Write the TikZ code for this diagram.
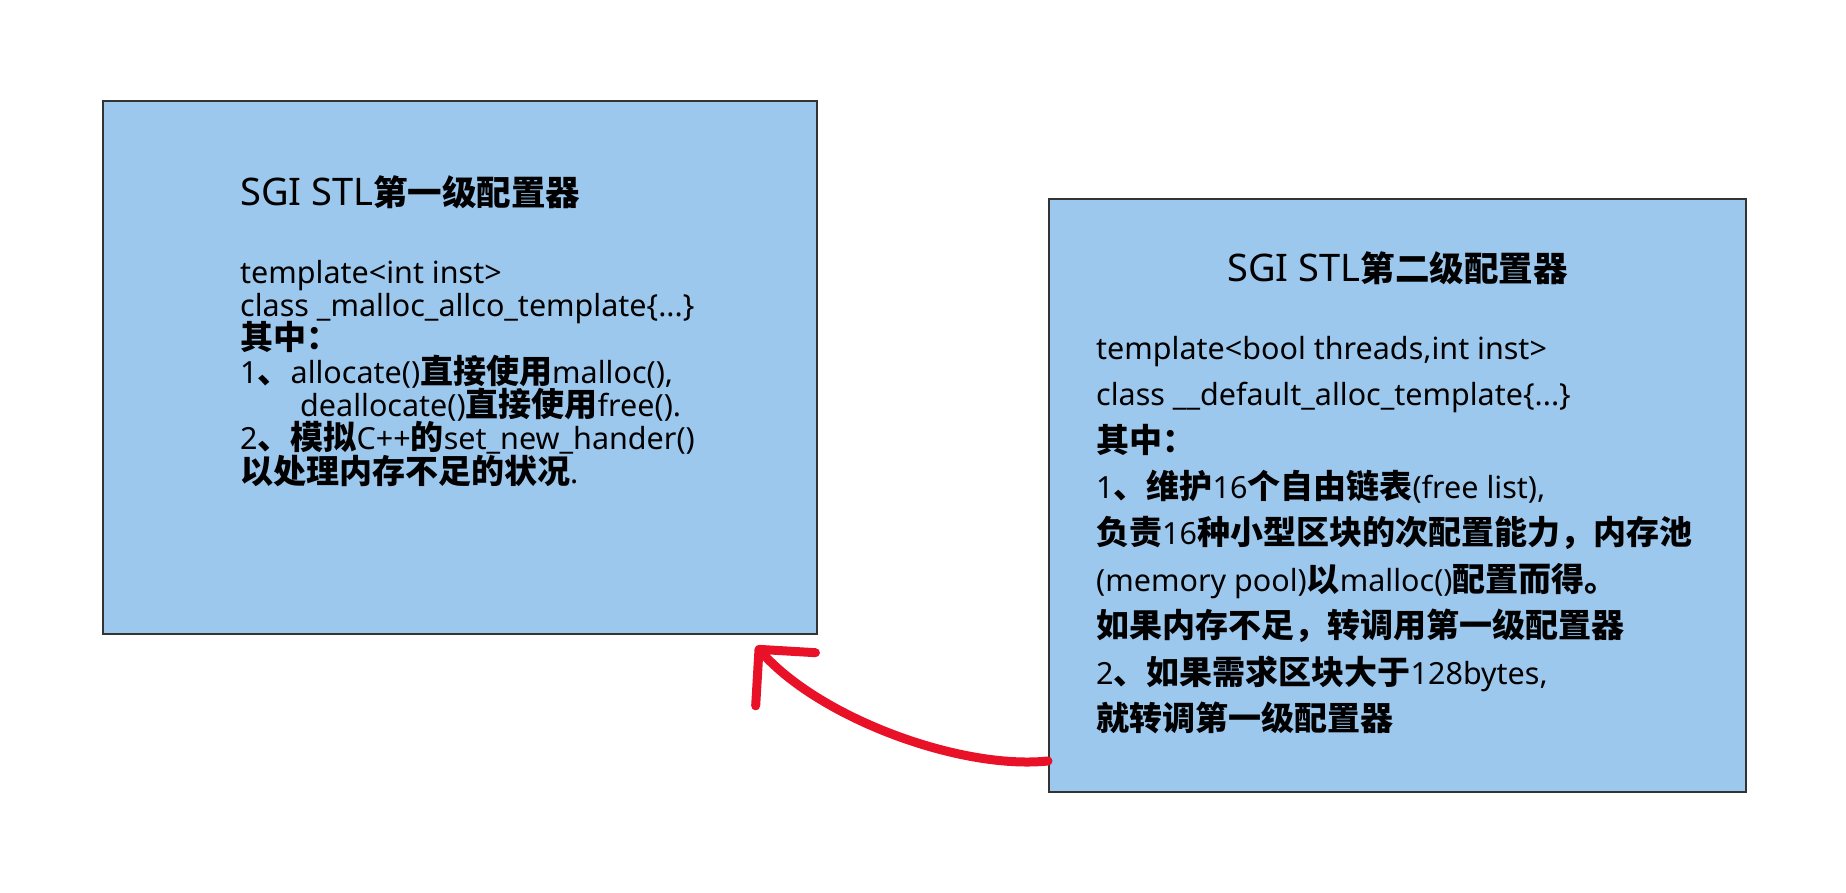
\documentclass[tikz,border=0pt]{standalone}
\usepackage{fontspec}
\setmainfont{Noto Sans}
\newfontfamily\cjk{Noto Sans CJK SC}
\newcommand{\zh}[1]{{\cjk\bfseries\fontsize{33}{33}\selectfont #1}}
\newcommand{\zhtitle}[1]{{\cjk\bfseries\fontsize{34.5}{34.5}\selectfont #1}}
\newcommand{\tightlines}{\lineskiplimit=-100pt\relax}
\usepackage{tikz}
\usetikzlibrary{arrows.meta, calc}
\definecolor{boxblue}{RGB}{157,200,238}
\definecolor{boxline}{RGB}{51,51,51}
\definecolor{arrowred}{RGB}{232,17,40}

\begin{document}
\begin{tikzpicture}[
    x=1pt, y=-1pt,
    box/.style={rectangle, draw=boxline, fill=boxblue, line width=2pt, inner sep=0pt},
    title/.style={inner sep=0pt, font=\fontsize{38}{38}\selectfont},
    txt/.style={inner sep=0pt, align=left, font={\fontsize{30.5}{33.3}\selectfont\tightlines}},
    arrow/.style={-{Straight Barb[length=40pt, width=80pt, round]}, line width=9pt, line cap=round, arrowred}
]
    \useasboundingbox (0,0) rectangle (1846,893);
    \fill[white] (0,0) rectangle (1846,893);

    % 第一级配置器
    \node[box, minimum width=714pt, minimum height=533pt, anchor=north west] (lbox) at (102,100) {};
    \node[title, anchor=west] (ltitle) at ($(lbox.north west)+(138,92)$) {SGI STL\zhtitle{第一级配置器}};
    \node[txt, anchor=north west] (lbody) at ($(lbox.north west)+(138,160)$) {template<int inst>\\
        class \_malloc\_allco\_template\{...\}\\
        \zh{其中：}\\
        1\zh{、}allocate()\zh{直接使用}malloc(),\\
        \hspace*{60pt}deallocate()\zh{直接使用}free().\\
        2\zh{、模拟}C++\zh{的}set\_new\_hander()\\
        \zh{以处理内存不足的状况}.};

    % 第二级配置器
    \node[box, minimum width=697pt, minimum height=593pt, anchor=north west] (rbox) at (1048,198) {};
    \node[title] (rtitle) at ($(rbox.north)+(0,70)$) {SGI STL\zhtitle{第二级配置器}};
    \node[txt, anchor=north west, font={\fontsize{30.5}{46.4}\selectfont\tightlines}] (rbody) at ($(rbox.north west)+(48,138)$) {template<bool threads,int inst>\\
        class \_\_default\_alloc\_template\{...\}\\
        \zh{其中：}\\
        1\zh{、维护}16\zh{个自由链表}(free list),\\
        \zh{负责}16\zh{种小型区块的次配置能力，内存池}\\
        (memory pool)\zh{以}malloc()\zh{配置而得。}\\
        \zh{如果内存不足，转调用第一级配置器}\\
        2\zh{、如果需求区块大于}128bytes,\\
        \zh{就转调第一级配置器}};

    % 转调第一级
    \coordinate (tail) at ($(rbox.south west)+(0,-32)$);
    \coordinate (head) at ($(lbox.south east)+(-62,11)$);
    \draw[arrow] (tail) .. controls (960,770) and (820,718) .. (head);
\end{tikzpicture}
\end{document}
